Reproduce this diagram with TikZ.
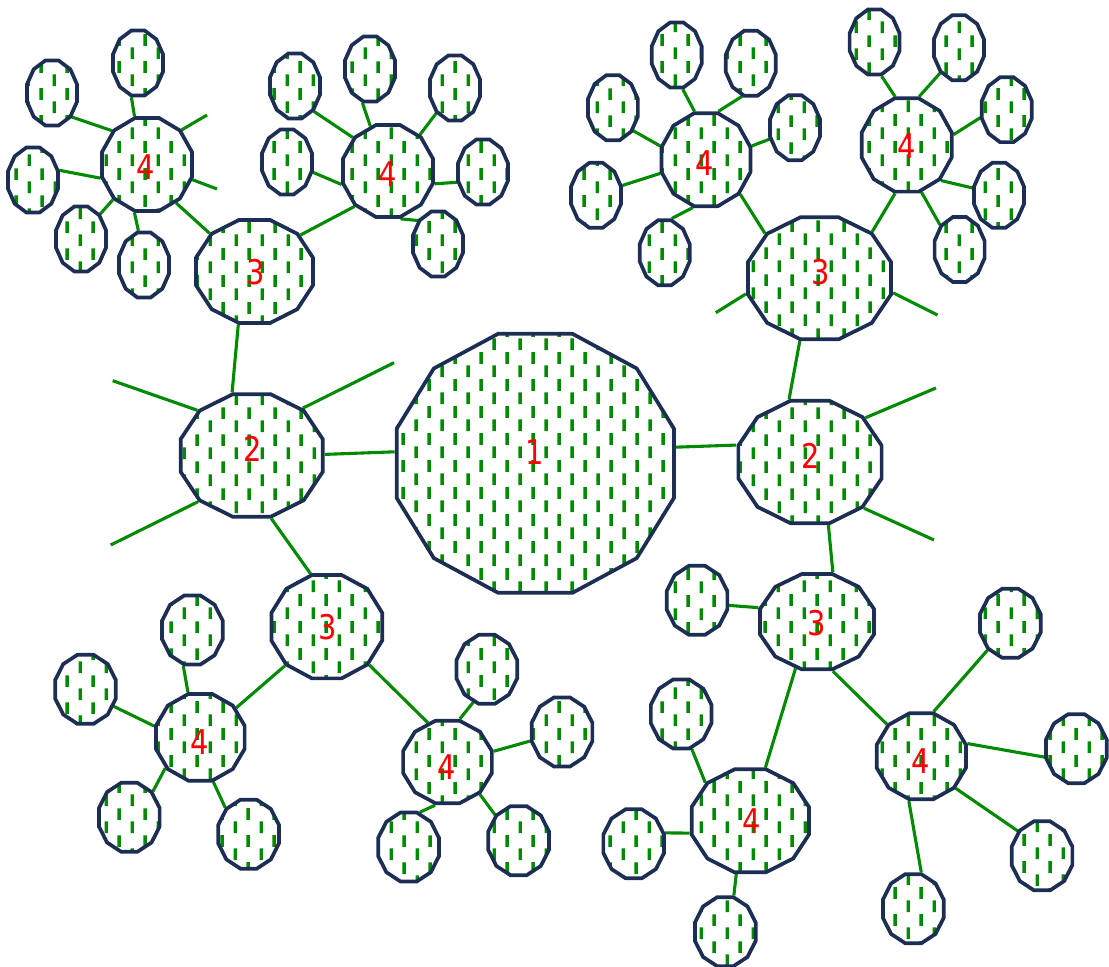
\documentclass[tikz,border=0pt]{standalone}
\usepackage{fontspec}
\newfontfamily\numfont{DejaVu Sans}[FakeStretch=0.85]
\usetikzlibrary{shapes.geometric,patterns,backgrounds}

\definecolor{rimblue}{RGB}{28,46,84}
\definecolor{twig}{RGB}{0,138,0}

% 竖短线填充图案
\pgfdeclarepatternformonly{vdashes}{\pgfqpoint{0pt}{0pt}}{\pgfqpoint{12.93pt}{13.33pt}}{\pgfqpoint{12.93pt}{13.33pt}}{%
  \pgfsetlinewidth{1.7pt}%
  \pgfpathmoveto{\pgfqpoint{1.6pt}{0.5pt}}\pgfpathlineto{\pgfqpoint{1.6pt}{6.35pt}}%
  \pgfpathmoveto{\pgfqpoint{8.07pt}{7.17pt}}\pgfpathlineto{\pgfqpoint{8.07pt}{13.02pt}}%
  \pgfusepath{stroke}}

\begin{document}
\begin{tikzpicture}[x=0.5pt, y=-0.5pt,
    cell/.style={regular polygon, regular polygon sides=12, draw=rimblue, line width=1.85pt,
      pattern=vdashes, pattern color=twig, inner sep=0pt},
    leaf/.style={cell, minimum size=33.6pt, xscale=0.77},
    bud/.style={cell, minimum size=35.7pt, xscale=0.88},
    link/.style={draw=twig, line width=1.55pt},
    num/.style={text=red, inner sep=0pt, font=\numfont\fontsize{17}{17}\selectfont}]
    \useasboundingbox (0,0) rectangle (1109,967);

    % 1. 中心与第二、三层
    \node[cell, minimum size=134.1pt, xscale=1.07] (hub) at (535.3,463.3) {};
    \node[cell, minimum size=63.4pt, xscale=1.16] (west) at (251.7,455.5) {};
    \node[cell, minimum size=63.5pt, xscale=1.168] (east) at (810,462) {};
    \node[cell, minimum size=53.3pt, xscale=1.136] (nw) at (254.5,271.5) {};
    \node[cell, minimum size=63.1pt, xscale=1.172] (ne) at (819.5,278.3) {};
    \node[cell, minimum size=53.5pt, xscale=1.072] (sw) at (326.8,626.7) {};
    \node[cell, minimum size=49.3pt, xscale=1.196] (se) at (817,621.7) {};

    % 2. 第四层
    \node[cell, minimum size=48.1pt, xscale=0.968] (nw1) at (147,164.5) {};
    \node[cell, minimum size=47.6pt, xscale=0.978] (nw2) at (388,171) {};
    \node[cell, minimum size=48.1pt, xscale=0.957] (ne1) at (706,159.7) {};
    \node[cell, minimum size=48.3pt, xscale=0.964] (ne2) at (906.7,145) {};
    \node[cell, minimum size=44.9pt, xscale=1.022] (sw1) at (200.3,737.3) {};
    \node[cell, minimum size=42.8pt, xscale=1.073] (sw2) at (447.5,762) {};
    \node[cell, minimum size=53.3pt, xscale=1.139] (se1) at (750.3,820.8) {};
    \node[cell, minimum size=44.5pt, xscale=1.038] (se2) at (921.3,756.3) {};

    % 3. 叶子
    \node[leaf] (nw1a) at (138,63) {};
    \node[leaf] (nw1b) at (52,93) {};
    \node[leaf] (nw1c) at (33,180) {};
    \node[leaf] (nw1d) at (81,239) {};
    \node[leaf] (nw1e) at (144,265) {};
    \node[leaf] (nw2a) at (295,86) {};
    \node[leaf] (nw2b) at (370,69) {};
    \node[leaf] (nw2c) at (455,88) {};
    \node[leaf] (nw2d) at (287,162) {};
    \node[leaf] (nw2e) at (483,172) {};
    \node[leaf] (nw2f) at (438,244) {};
    \node[leaf] (ne1a) at (676.7,55) {};
    \node[leaf] (ne1b) at (750.8,63.3) {};
    \node[leaf] (ne1c) at (612.9,107.8) {};
    \node[leaf] (ne1d) at (795,127.8) {};
    \node[leaf] (ne1e) at (596,195.3) {};
    \node[leaf] (ne1f) at (664.7,252.8) {};
    \node[leaf] (ne2a) at (874.6,42) {};
    \node[leaf] (ne2b) at (958.9,47.8) {};
    \node[leaf] (ne2c) at (1006.8,109.7) {};
    \node[leaf] (ne2d) at (999,195.3) {};
    \node[leaf] (ne2e) at (959.6,249.5) {};
    \node[bud] (sw1a) at (192.4,630) {};
    \node[bud] (sw1b) at (85.5,689.3) {};
    \node[bud] (sw1c) at (129.3,817.3) {};
    \node[bud] (sw1d) at (248.6,834.2) {};
    \node[bud] (sw2a) at (486.8,669.3) {};
    \node[bud] (sw2b) at (562,732) {};
    \node[bud] (sw2c) at (408.6,847) {};
    \node[bud] (sw2d) at (518.6,840.7) {};
    \node[bud] (se0) at (697,600.3) {};
    \node[bud] (se1a) at (681.2,714) {};
    \node[bud] (se1b) at (633.7,843.8) {};
    \node[bud] (se1c) at (725.3,931.7) {};
    \node[bud] (se2a) at (1010.3,623.3) {};
    \node[bud] (se2b) at (1076.3,748.7) {};
    \node[bud] (se2c) at (1042,855.8) {};
    \node[bud] (se2d) at (913.3,908.7) {};

    % 4. 编号
    \node[num] (hubt) at (534.3,451.7) {1};
    \node[num] (westt) at (253,449.2) {2};
    \node[num] (eastt) at (810.8,455.8) {2};
    \node[num] (nwt) at (255.8,271.7) {3};
    \node[num] (net) at (820.3,271.7) {3};
    \node[num] (swt) at (327.3,627.5) {3};
    \node[num] (set) at (816.3,623.3) {3};
    \node[num] (nw1t) at (145.8,166.7) {4};
    \node[num] (nw2t) at (387.5,174) {4};
    \node[num] (ne1t) at (705,163.3) {4};
    \node[num] (ne2t) at (906.3,145.8) {4};
    \node[num] (sw1t) at (199.4,742.5) {4};
    \node[num] (sw2t) at (446.8,767.5) {4};
    \node[num] (se1t) at (751.7,820.8) {4};
    \node[num] (se2t) at (920.8,760.8) {4};

    % 5. 悬空端点
    \coordinate (x1) at (112.7,380.7);
    \coordinate (x2) at (394,362.7);
    \coordinate (x3) at (110.7,545);
    \coordinate (x4) at (936,388);
    \coordinate (x5) at (934,540);
    \coordinate (x6) at (715.8,312.7);
    \coordinate (x7) at (937.5,315);
    \coordinate (x8) at (207,115);
    \coordinate (x9) at (217,189);

    % 6. 连线 (压在多边形下面)
    \begin{scope}[on background layer]
      \draw[link] (hub.175) -- (west.1);
      \draw[link] (hub.7) -- (east.165);
      \draw[link] (west.105) -- (nw.255);
      \draw[link] (west.285) -- (sw.106);
      \draw[link] (east.106) -- (ne.255);
      \draw[link] (east.284) -- (se.75);
      \draw[link] (nw.136) -- (nw1.308);
      \draw[link] (nw.42) -- (nw2.226);
      \draw[link] (ne.136) -- (ne1.316);
      \draw[link] (ne.46) -- (ne2.256);
      \draw[link] (sw.225) -- (sw1.40);
      \draw[link] (sw.316) -- (sw2.115);
      \draw[link] (se.164) -- (se0.352);
      \draw[link] (se.249) -- (se1.76);
      \draw[link] (se.285) -- (se2.136);

      \draw[link] (west.136) -- (x1);
      \draw[link] (west.47) -- (x2);
      \draw[link] (west.225) -- (x3);
      \draw[link] (east.43) -- (x4);
      \draw[link] (east.315) -- (x5);
      \draw[link] (ne.194) -- (x6);
      \draw[link] (ne.347) -- (x7);
      \draw[link] (nw1.44) -- (x8);
      \draw[link] (nw1.342) -- (x9);

      \draw[link] (nw1a.256) -- (nw1.105);
      \draw[link] (nw1b.317) -- (nw1.137);
      \draw[link] (nw1c.16) -- (nw1.196);
      \draw[link] (nw1d.45) -- (nw1.225);
      \draw[link] (nw1e.102) -- (nw1.255);
      \draw[link] (nw2a.314) -- (nw2.137);
      \draw[link] (nw2b.254) -- (nw2.112);
      \draw[link] (nw2c.226) -- (nw2.48);
      \draw[link] (nw2d.343) -- (nw2.196);
      \draw[link] (nw2e.197) -- (nw2.345);
      \draw[link] (nw2f.138) -- (nw2.285);
      \draw[link] (ne1a.283) -- (ne1.104);
      \draw[link] (ne1b.251) -- (ne1.75);
      \draw[link] (ne1c.319) -- (ne1.164);
      \draw[link] (ne1d.199) -- (ne1.16);
      \draw[link] (ne1e.16) -- (ne1.196);
      \draw[link] (ne1f.75) -- (ne1.254);
      \draw[link] (ne2a.285) -- (ne2.104);
      \draw[link] (ne2b.226) -- (ne2.75);
      \draw[link] (ne2c.193) -- (ne2.12);
      \draw[link] (ne2d.168) -- (ne2.315);
      \draw[link] (ne2e.136) -- (ne2.288);
      \draw[link] (sw1a.254) -- (sw1.105);
      \draw[link] (sw1b.332) -- (sw1.166);
      \draw[link] (sw1c.44) -- (sw1.222);
      \draw[link] (sw1d.135) -- (sw1.286);
      \draw[link] (sw2a.245) -- (sw2.75);
      \draw[link] (sw2b.194) -- (sw2.14);
      \draw[link] (sw2c.70) -- (sw2.255);
      \draw[link] (sw2d.136) -- (sw2.313);
      \draw[link] (se1a.289) -- (se1.136);
      \draw[link] (se1b.17) -- (se1.193);
      \draw[link] (se1c.75) -- (se1.257);
      \draw[link] (se2a.226) -- (se2.75);
      \draw[link] (se2b.193) -- (se2.16);
      \draw[link] (se2c.138) -- (se2.316);
      \draw[link] (se2d.76) -- (se2.255);
    \end{scope}
\end{tikzpicture}
\end{document}
